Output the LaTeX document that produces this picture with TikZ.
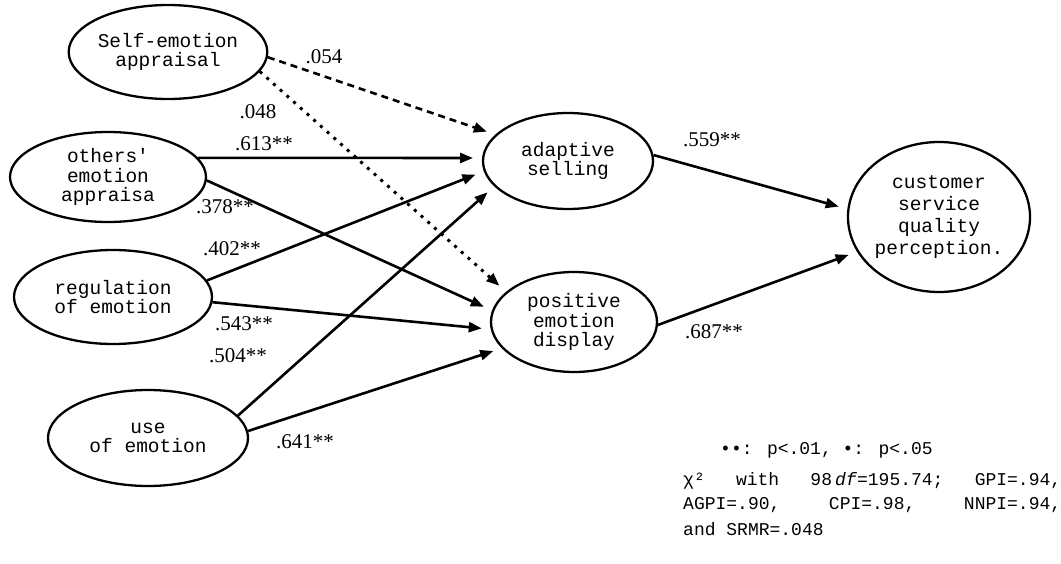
\documentclass[tikz,border=0pt]{standalone}
\usepackage{fontspec}
\setmainfont{Liberation Serif}
\newfontfamily\lblfont{Liberation Mono}
\usetikzlibrary{shapes.geometric,arrows.meta}
\begin{document}
\begin{tikzpicture}[x=1pt,y=-1pt,
  latent/.style={ellipse,draw,line width=2.3pt,inner sep=0pt,align=center,
    font=\lblfont\fontsize{19.5}{19.5}\selectfont},
  sem/.style={line width=2.6pt,-{Triangle[length=13pt,width=10pt]},shorten >=9pt},
  nsdash/.style={sem,dash pattern=on 7pt off 5pt},
  nsdot/.style={sem,line width=3pt,dash pattern=on 3pt off 6pt},
  coef/.style={font=\fontsize{21}{22}\selectfont,inner sep=0pt},
  legend/.style={font=\lblfont\fontsize{18}{20}\selectfont,inner sep=0pt,anchor=west}]
\useasboundingbox[fill=white] (0,0) rectangle (1061,564);

% latent variables
\node[latent,minimum width=196pt,minimum height=94pt] (self) at (168,52) {Self-emotion\\appraisal};
\node[latent,minimum width=196pt,minimum height=90pt] (others) at (108,177) {others'\\emotion\\appraisa};
\node[latent,minimum width=198pt,minimum height=94pt] (reg) at (113,297) {regulation\\of emotion};
\node[latent,minimum width=200pt,minimum height=96pt] (use) at (148,438) {use\\of emotion};
\node[latent,minimum width=170pt,minimum height=96pt] (adapt) at (568,161) {adaptive\\selling};
\node[latent,minimum width=166pt,minimum height=100pt] (pos) at (574,322) {positive\\emotion\\display};
\node[latent,minimum width=182pt,minimum height=150pt,font=\lblfont\fontsize{19.5}{22}\selectfont] (cust) at (939,217) {customer\\service\\quality\\perception.};

% paths
\draw[nsdash] (self.-3) -- (adapt.160);
\draw[nsdot] (self.-12) -- (pos.156);
\draw[sem] (others.12) -- (adapt.178);
\draw[sem] (others.-2) -- (pos.172);
\draw[sem] (reg.10) -- (adapt.187);
\draw[sem] (reg.-3) -- (pos.185);
\draw[sem] (use.14) -- (adapt.199);
\draw[sem] (use.4) -- (pos.200);
\draw[sem] (adapt.4) -- (cust.175);
\draw[sem] (pos.-2) -- (cust.203);

% coefficients
\node[coef] (c1) at (324,57) {.054};
\node[coef] (c2) at (258,112) {.048};
\node[coef] (c3) at (264,144) {.613**};
\node[coef] (c4) at (225,207) {.378**};
\node[coef] (c5) at (232,249) {.402**};
\node[coef] (c6) at (244,324) {.543**};
\node[coef] (c7) at (238,356) {.504**};
\node[coef] (c8) at (305,442) {.641**};
\node[coef] (c9) at (712,140) {.559**};
\node[coef] (c10) at (714,332) {.687**};

% legend
\node[legend] (l1) at (720,450) {••: p<.01, •: p<.05};
\node[legend,text width=378pt] (l2) at (683,481) {χ²\hfill with\hfill 98\,\textit{df}=195.74;\hfill GPI=.94,};
\node[legend,text width=378pt] (l3) at (683,505) {AGPI=.90,\hfill CPI=.98,\hfill NNPI=.94,};
\node[legend] (l4) at (683,529) {and SRMR=.048};
\end{tikzpicture}
\end{document}
